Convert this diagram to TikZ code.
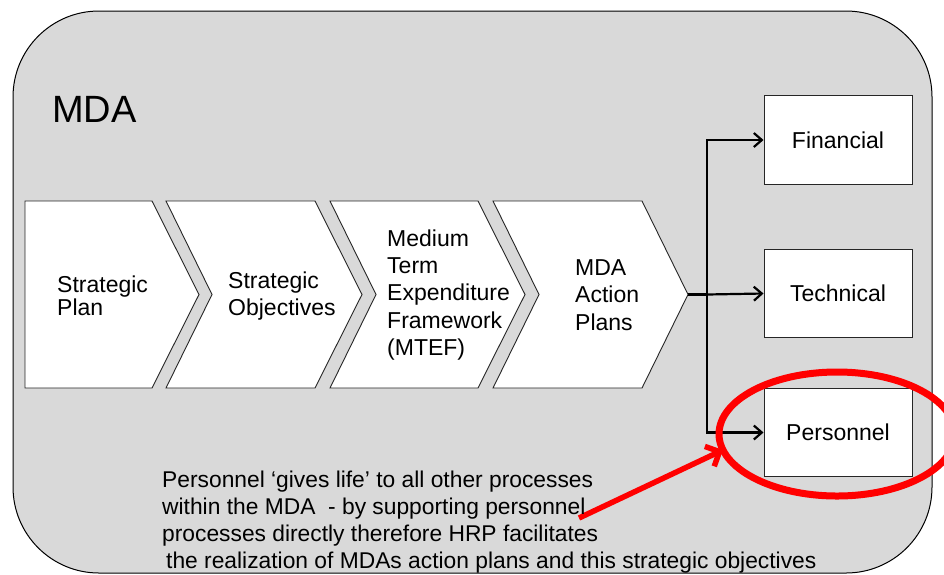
\documentclass[tikz,border=0pt]{standalone}
\usepackage{fontspec}
\setmainfont{Liberation Sans}
\usetikzlibrary{arrows.meta,shapes.geometric}
\definecolor{bggray}{HTML}{D9D9D9}
\definecolor{hlred}{HTML}{FF0000}
\begin{document}
\begin{tikzpicture}[x=1pt,y=-1pt,
  chev/.style={fill=white,draw=black!85,line width=0.9pt,line join=miter},
  ctext/.style={anchor=west,align=left,inner sep=0pt,font=\fontsize{23}{27.3}\selectfont},
  tbox/.style={draw=black!85,fill=white,line width=1pt,minimum width=148pt,minimum height=88.5pt,inner sep=0pt,font=\fontsize{23}{27}\selectfont},
  link/.style={line width=2.2pt,-{Straight Barb[length=8pt,width=14pt]}},
  redarrow/.style={draw=hlred,line width=5.5pt,-{Straight Barb[length=11pt,width=22pt]}}
]
\useasboundingbox (0,0) rectangle (944,574);
% outer MDA frame
\draw[fill=bggray,draw=black,line width=1pt,rounded corners=86pt] (13,11) rectangle (932,573);
\node[anchor=base west,inner sep=0pt,font=\fontsize{38}{40}\selectfont] (mda) at (52,122) {MDA};

% chevrons
\draw[chev] (25,201) -- (152,201) -- (199,294.5) -- (152,388) -- (25,388) -- cycle;
\draw[chev] (166,201) -- (315,201) -- (362,294.5) -- (315,388) -- (166,388) -- (212,294.5) -- cycle;
\draw[chev] (330,201) -- (478,201) -- (525,294.5) -- (478,388) -- (330,388) -- (376,294.5) -- cycle;
\draw[chev] (493,201) -- (642,201) -- (688,294.5) -- (642,388) -- (493,388) -- (539,294.5) -- cycle;

\node[ctext,font=\fontsize{23}{23.5}\selectfont] (c1) at (57,296) {Strategic\\Plan};
\node[ctext] (c2) at (228,296) {Strategic\\Objectives};
\node[ctext] (c3) at (387,295) {Medium\\Term\\Expenditure\\Framework\\(MTEF)};
\node[ctext] (c4) at (575,295) {MDA\\Action\\Plans};
\coordinate (act) at (688,294.5);

% resource boxes
\node[tbox] (fin) at (838,140) {Financial};
\node[tbox] (tech) at (838,293.5) {Technical};
\node[tbox] (pers) at (838,432.5) {Personnel};

% connectors
\coordinate (j) at (707,294.5);
\draw[line width=2.2pt] (act) -- (j);
\draw[link] (j) -- (tech.west);
\draw[link] (j) |- (fin.west);
\draw[link] (j) |- (pers.west);

% red highlight
\node[draw=hlred,line width=7pt,ellipse,minimum width=236pt,minimum height=124pt,inner sep=0pt] (ring) at (837,434) {};
\coordinate (rs) at (579,518);
\coordinate (rt) at (723,450);
\draw[redarrow] (rs) -- (rt);

% note text
\node[anchor=base west,align=left,inner sep=0pt,font=\fontsize{22.8}{26.7}\selectfont] (note) at (162,568)
 {Personnel ‘gives life’ to all other processes\\
  within the MDA \ - by supporting personnel\\
  processes directly therefore HRP facilitates\\
  \hspace{4pt}the realization of MDAs action plans and this strategic objectives};
\end{tikzpicture}
\end{document}
